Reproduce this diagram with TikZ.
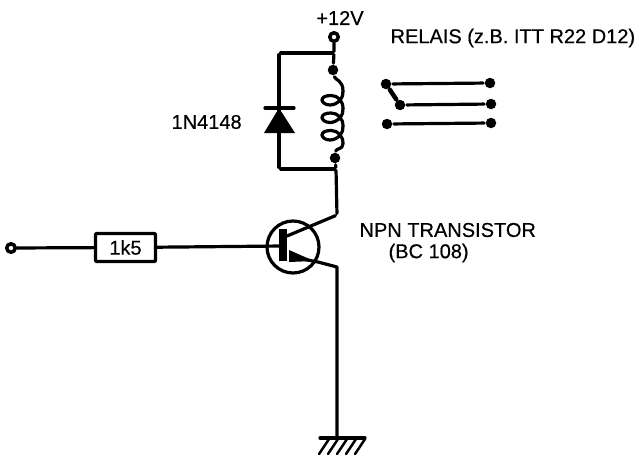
\documentclass[tikz,border=0pt]{standalone}
\usepackage{fontspec}
\setmainfont{Liberation Sans}[FakeBold=0.5]
\usetikzlibrary{positioning}

\begin{document}
\begin{tikzpicture}[
    x=1pt,
    y=-1pt,
    line width=3.2pt,
    line cap=round,
    line join=round,
    terminal/.style={%
      draw,
      circle,
      fill=white,
      line width=3.5pt,
      inner sep=0pt,
      minimum size=8.5pt,
    },
    dot/.style={%
      circle,
      fill=black,
      inner sep=0pt,
      minimum size=10.5pt,
    },
    corner/.style={%
      inner sep=0pt,
      minimum size=0pt,
    },
    label/.style={%
      font=\fontsize{20}{22}\selectfont,
      inner sep=0pt,
    },
  ]

    \useasboundingbox (0,0) rectangle (644,455);

    \node [terminal] (VCC) at (334,37) {};
    \node [corner] (T) at (334,53) {};
    \node [corner] (TL) at (279,53) {};
    \node [dot] (D1) at (333,70) {};
    \node [dot] (D2) at (335,158) {};
    \node [corner] (B) at (336,169) {};
    \node [corner] (BL) at (279,169) {};
    \node [corner] (K) at (279,108) {};
    \node [corner] (C) at (337,215) {};
    \node [corner] (E) at (337,267) {};
    \node [corner] (GND) at (337,438) {};

    \node [terminal] (IN) at (11,248) {};
    \node [draw, rectangle, rounded corners=1pt, minimum width=60pt, minimum height=28pt,
      inner sep=0pt, font=\fontsize{20}{22}\selectfont] (R) at (125.5,247.5) {1k5};

    \node [draw, circle, inner sep=0pt, minimum size=52pt] (Q) at (293,247) {};
    \node [corner] (QB) at (283,246) {};

    \draw (VCC) -- (T) -- (D1);
    \draw (T) -- (TL) -- (K);
    \draw (K) -- (BL) -- (B);
    \draw (D2) -- (B) -- (C) -- (287,236);
    \draw (IN) -- (R);
    \draw (R) -- (QB);
    \draw [line width=8pt, line cap=butt] (283,229) -- (283,261);
    \draw (292,257) -- (318,262) -- (E.center) -- (GND.center);
    \fill (289,250) -- (314,261) -- (289,262) -- cycle;

    \draw (265,108) -- (294,108);
    \fill (279,108) -- (295,133) -- (264,133) -- cycle;

    \draw (D1) .. controls (335,80) and (343,80) .. (343,91);
    \foreach \c in {100,117.5,135} {
      \draw (343,\c-9) .. controls (344,\c-3) and (338,\c+5) .. (330,\c+5)
        .. controls (325,\c+5) and (322,\c+2) .. (322,\c)
        .. controls (322,\c-3) and (326,\c-4.5) .. (331,\c-4.5)
        .. controls (338,\c-4.5) and (343,\c+1) .. (343,\c+8.5);
    }
    \draw (343,143.5) .. controls (343,150) and (336,148) .. (D2);

    \node [dot] (S1) at (386,84) {};
    \node [dot] (S2) at (490,83) {};
    \node [dot] (S3) at (400,105) {};
    \node [dot] (S4) at (491,104) {};
    \node [dot] (S5) at (387,124) {};
    \node [dot] (S6) at (491,123) {};
    \draw (S1) -- (S2);
    \draw [line width=4.5pt] (S1) -- (S3);
    \draw (S3) -- (S4);
    \draw (S5) -- (S6);

    \draw (320,438) -- (365,438);
    \foreach \i in {0,1,2,3,4} {
      \draw [line width=2.5pt] (329+\i*9,439) -- (319+\i*9,454);
    }

    \node [label] (SUPPLY) at (340,18) {+12V};
    \node [label, anchor=west] (RELAY) at (389,38) {RELAIS (z.B. ITT R22 D12)};
    \node [label, anchor=west] (DIODE) at (170,122) {1N4148};
    \node [label, anchor=west] (NPN) at (358,230) {NPN TRANSISTOR};
    \node [label, anchor=west] (TYPE) at (387,253) {(BC 108)};
\end{tikzpicture}
\end{document}
